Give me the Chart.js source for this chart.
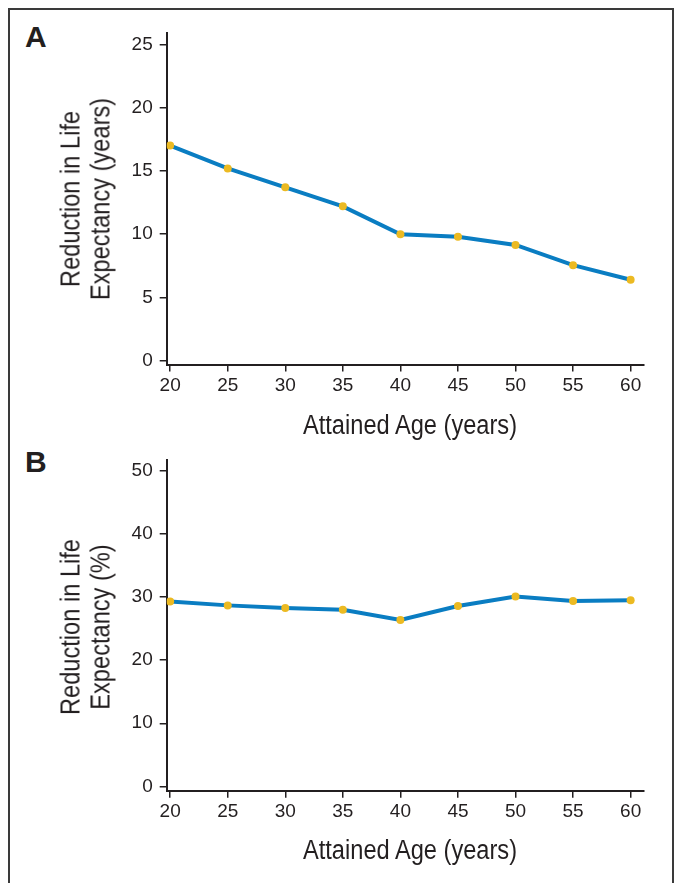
<!DOCTYPE html>
<html><head><meta charset="utf-8">
<script src="https://cdn.jsdelivr.net/npm/chart.js@4/dist/chart.umd.min.js"></script>
<style>
html,body{margin:0;padding:0;background:#fff;}
body{width:676px;height:883px;position:relative;overflow:hidden;}
#frame{position:absolute;left:8px;top:8px;width:666px;height:900px;border:2px solid #3a3a3a;box-sizing:border-box;}
.panel{position:absolute;font-family:'Liberation Sans',Arial,sans-serif;font-weight:bold;font-size:30px;line-height:30px;color:#231f20;}
.wrap{position:absolute;left:0;width:676px;}
.xt{position:absolute;white-space:nowrap;font-family:'Liberation Sans',Arial,sans-serif;font-size:27px;line-height:27px;color:#231f20;transform:translateX(-50%) scaleX(0.875);}
.yt{position:absolute;white-space:nowrap;text-align:center;font-family:'Liberation Sans',Arial,sans-serif;font-size:27px;line-height:29.5px;color:#231f20;transform:translate(-50%,-50%) rotate(-90deg) scaleX(0.875);}
</style></head>
<body>
<div id="frame"></div>
<div class="panel" style="left:25px;top:22px">A</div>
<div class="panel" style="left:25px;top:447px">B</div>
<div class="wrap" style="top:0;height:442px"><canvas id="ca" width="676" height="442"></canvas></div>
<div class="wrap" style="top:442px;height:441px"><canvas id="cb" width="676" height="441"></canvas></div>
<div id="xtA" class="xt" style="left:410px;top:411.5px"></div>
<div id="xtB" class="xt" style="left:410px;top:837px"></div>
<div id="ytA" class="yt" style="left:85.5px;top:199px"></div>
<div id="ytB" class="yt" style="left:85.5px;top:627px"></div>
<script>
const ages = [20, 25, 30, 35, 40, 45, 50, 55, 60];
const lossYears = [17.0, 15.2, 13.7, 12.2, 10.0, 9.8, 9.15, 7.55, 6.4];
const lossPercent = [29.3, 28.7, 28.3, 28.0, 26.4, 28.6, 30.1, 29.4, 29.5];
const yTicksA = [0, 5, 10, 15, 20, 25];
const yTicksB = [0, 10, 20, 30, 40, 50];
const xTitle = 'Attained Age (years)';
const yTitleA = ['Reduction in Life', 'Expectancy (years)'];
const yTitleB = ['Reduction in Life', 'Expectancy (%)'];

document.getElementById('xtA').textContent = xTitle;
document.getElementById('xtB').textContent = xTitle;
function setLines(id, lines) {
  const el = document.getElementById(id);
  lines.forEach((t, i) => { if (i) el.appendChild(document.createElement('br')); el.appendChild(document.createTextNode(t)); });
}
setLines('ytA', yTitleA);
setLines('ytB', yTitleB);

const INK = '#231f20';
const tickFont = {family: "'Liberation Sans', Arial, sans-serif", size: 19};

function makeChart(id, values, yMin, yMax, yTicks, padTop, canvasH, areaBottom) {
  return new Chart(document.getElementById(id), {
    type: 'line',
    data: {
      datasets: [{
        data: ages.map((a, i) => ({x: a, y: values[i]})),
        borderColor: '#0a7dc2',
        borderWidth: 4,
        pointBackgroundColor: '#ecba22',
        pointBorderWidth: 0,
        pointRadius: 4,
        tension: 0,
        fill: false
      }]
    },
    options: {
      responsive: false,
      devicePixelRatio: 1,
      animation: false,
      plugins: {legend: {display: false}, tooltip: {enabled: false}},
      layout: {padding: {left: 0, right: 32.7, top: padTop, bottom: 0}},
      scales: {
        x: {
          type: 'linear',
          min: 19.7, max: 61.1,
          afterBuildTicks: s => { s.ticks = ages.map(v => ({value: v})); },
          afterFit: s => { s.height = canvasH - areaBottom; },
          grid: {drawOnChartArea: false, drawTicks: true, tickLength: 7, color: INK, lineWidth: 1.5},
          border: {display: true, color: INK, width: 2},
          ticks: {font: tickFont, color: INK, padding: 3, maxRotation: 0}
        },
        y: {
          type: 'linear',
          min: yMin, max: yMax,
          afterBuildTicks: s => { s.ticks = yTicks.map(v => ({value: v})); },
          afterFit: s => { s.width = 166.7; },
          grid: {drawOnChartArea: false, drawTicks: true, tickLength: 7, color: INK, lineWidth: 1.5},
          border: {display: true, color: INK, width: 2},
          ticks: {font: tickFont, color: INK, padding: 7}
        }
      }
    }
  });
}

makeChart('ca', lossYears, -0.3, 25.9, yTicksA, 33, 442, 364.5);
makeChart('cb', lossPercent, -0.7, 51.7, yTicksB, 17.3, 441, 348.7);
</script>
</body></html>
